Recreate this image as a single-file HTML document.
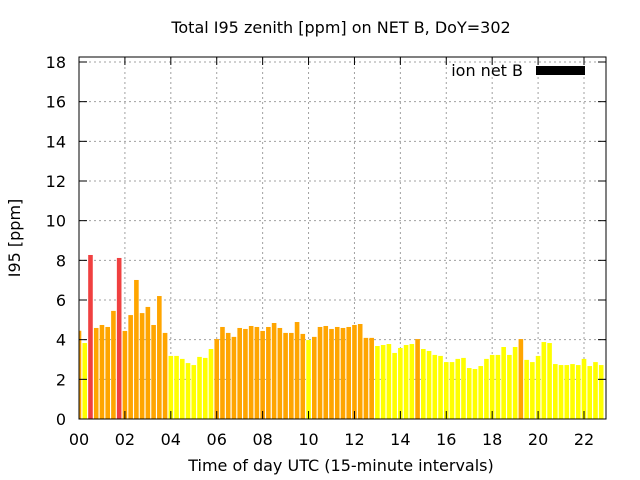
<!DOCTYPE html>
<html><head><meta charset="utf-8"><style>
body{margin:0;background:#fff}
svg{display:block;font-family:"DejaVu Sans","Liberation Sans",sans-serif}
</style></head><body>
<svg id="chart" width="640" height="480" xmlns="http://www.w3.org/2000/svg">
<rect width="640" height="480" fill="#fff"/>
<text x="341" y="33" font-size="16" text-anchor="middle">Total I95 zenith [ppm] on NET B, DoY=302</text>
<text x="341" y="471" font-size="16" text-anchor="middle">Time of day UTC (15-minute intervals)</text>
<text transform="translate(20,238) rotate(-90)" font-size="16" text-anchor="middle">I95 [ppm]</text>
<g id="grid"></g><g id="bars"></g><g id="axes"></g>
<text x="523" y="76" font-size="16" text-anchor="end">ion net B</text>
<rect x="536" y="66" width="49" height="9" fill="#000"/>
</svg>
<script>
const values=[4.45,3.83,8.27,4.59,4.74,4.64,5.45,8.12,4.44,5.24,7.01,5.34,5.65,4.74,6.2,4.34,3.18,3.18,3.03,2.82,2.72,3.13,3.08,3.53,4.03,4.64,4.34,4.14,4.59,4.54,4.69,4.64,4.44,4.64,4.84,4.59,4.34,4.34,4.89,4.29,3.98,4.14,4.64,4.69,4.54,4.64,4.59,4.64,4.74,4.79,4.09,4.09,3.68,3.73,3.78,3.33,3.58,3.73,3.78,4.03,3.53,3.43,3.23,3.18,2.87,2.87,3.03,3.08,2.57,2.52,2.67,3.03,3.23,3.23,3.63,3.23,3.63,4.03,2.98,2.87,3.18,3.88,3.83,2.77,2.72,2.72,2.77,2.72,3.03,2.67,2.87,2.72];
const yTicks=[0,2,4,6,8,10,12,14,16,18];
const xTickHours=[0,2,4,6,8,10,12,14,16,18,20,22];
const L=79,R=606,T=57,B=419;
const xs=h=>L+h*(505/22);
const ys=v=>B-v*(357/18);
const NS="http://www.w3.org/2000/svg";
function mk(tag,attrs,parent){const e=document.createElementNS(NS,tag);for(const k in attrs)e.setAttribute(k,attrs[k]);parent.appendChild(e);return e;}
const grid=document.getElementById('grid'),bars=document.getElementById('bars'),axes=document.getElementById('axes');
yTicks.forEach(v=>{const y=ys(v);
 if(v>0){const g=mk('line',{x1:L,x2:R,y1:y,y2:y,stroke:'#a0a0a0','stroke-dasharray':'2,3'},grid);
 
 }
 mk('line',{x1:L,x2:L+8,y1:y,y2:y,stroke:'#000'},axes);
 mk('line',{x1:R-8,x2:R,y1:y,y2:y,stroke:'#000'},axes);
 const t=mk('text',{x:L-13,y:y+6,'font-size':16,'text-anchor':'end'},axes);t.textContent=v;
 
 });
xTickHours.forEach(h=>{const x=xs(h);
 if(h>0){const g=mk('line',{x1:x,x2:x,y1:T,y2:B,stroke:'#a0a0a0','stroke-dasharray':'2,3'},grid);
 
 }
 mk('line',{x1:x,x2:x,y1:B,y2:B-8,stroke:'#000'},axes);
 mk('line',{x1:x,x2:x,y1:T,y2:T+8,stroke:'#000'},axes);
 const t=mk('text',{x:x,y:445,'font-size':16,'text-anchor':'middle'},axes);t.textContent=String(h).padStart(2,'0');
 
 });
values.forEach((v,i)=>{const c=xs(i*0.25);let x0=c-2.3,x1=c+2.3;if(x0<L)x0=L;if(x1>R)x1=R;
 const col=v>=8?'#f04040':(v>=4?'#ffa500':'#ffff00');
 const r=mk('rect',{x:x0,y:ys(v),width:x1-x0,height:B-ys(v),fill:col},bars);
 
 });
const f=mk('rect',{x:L,y:T,width:R-L,height:B-T,fill:'none',stroke:'#000','stroke-width':1},axes);


</script>
</body></html>
